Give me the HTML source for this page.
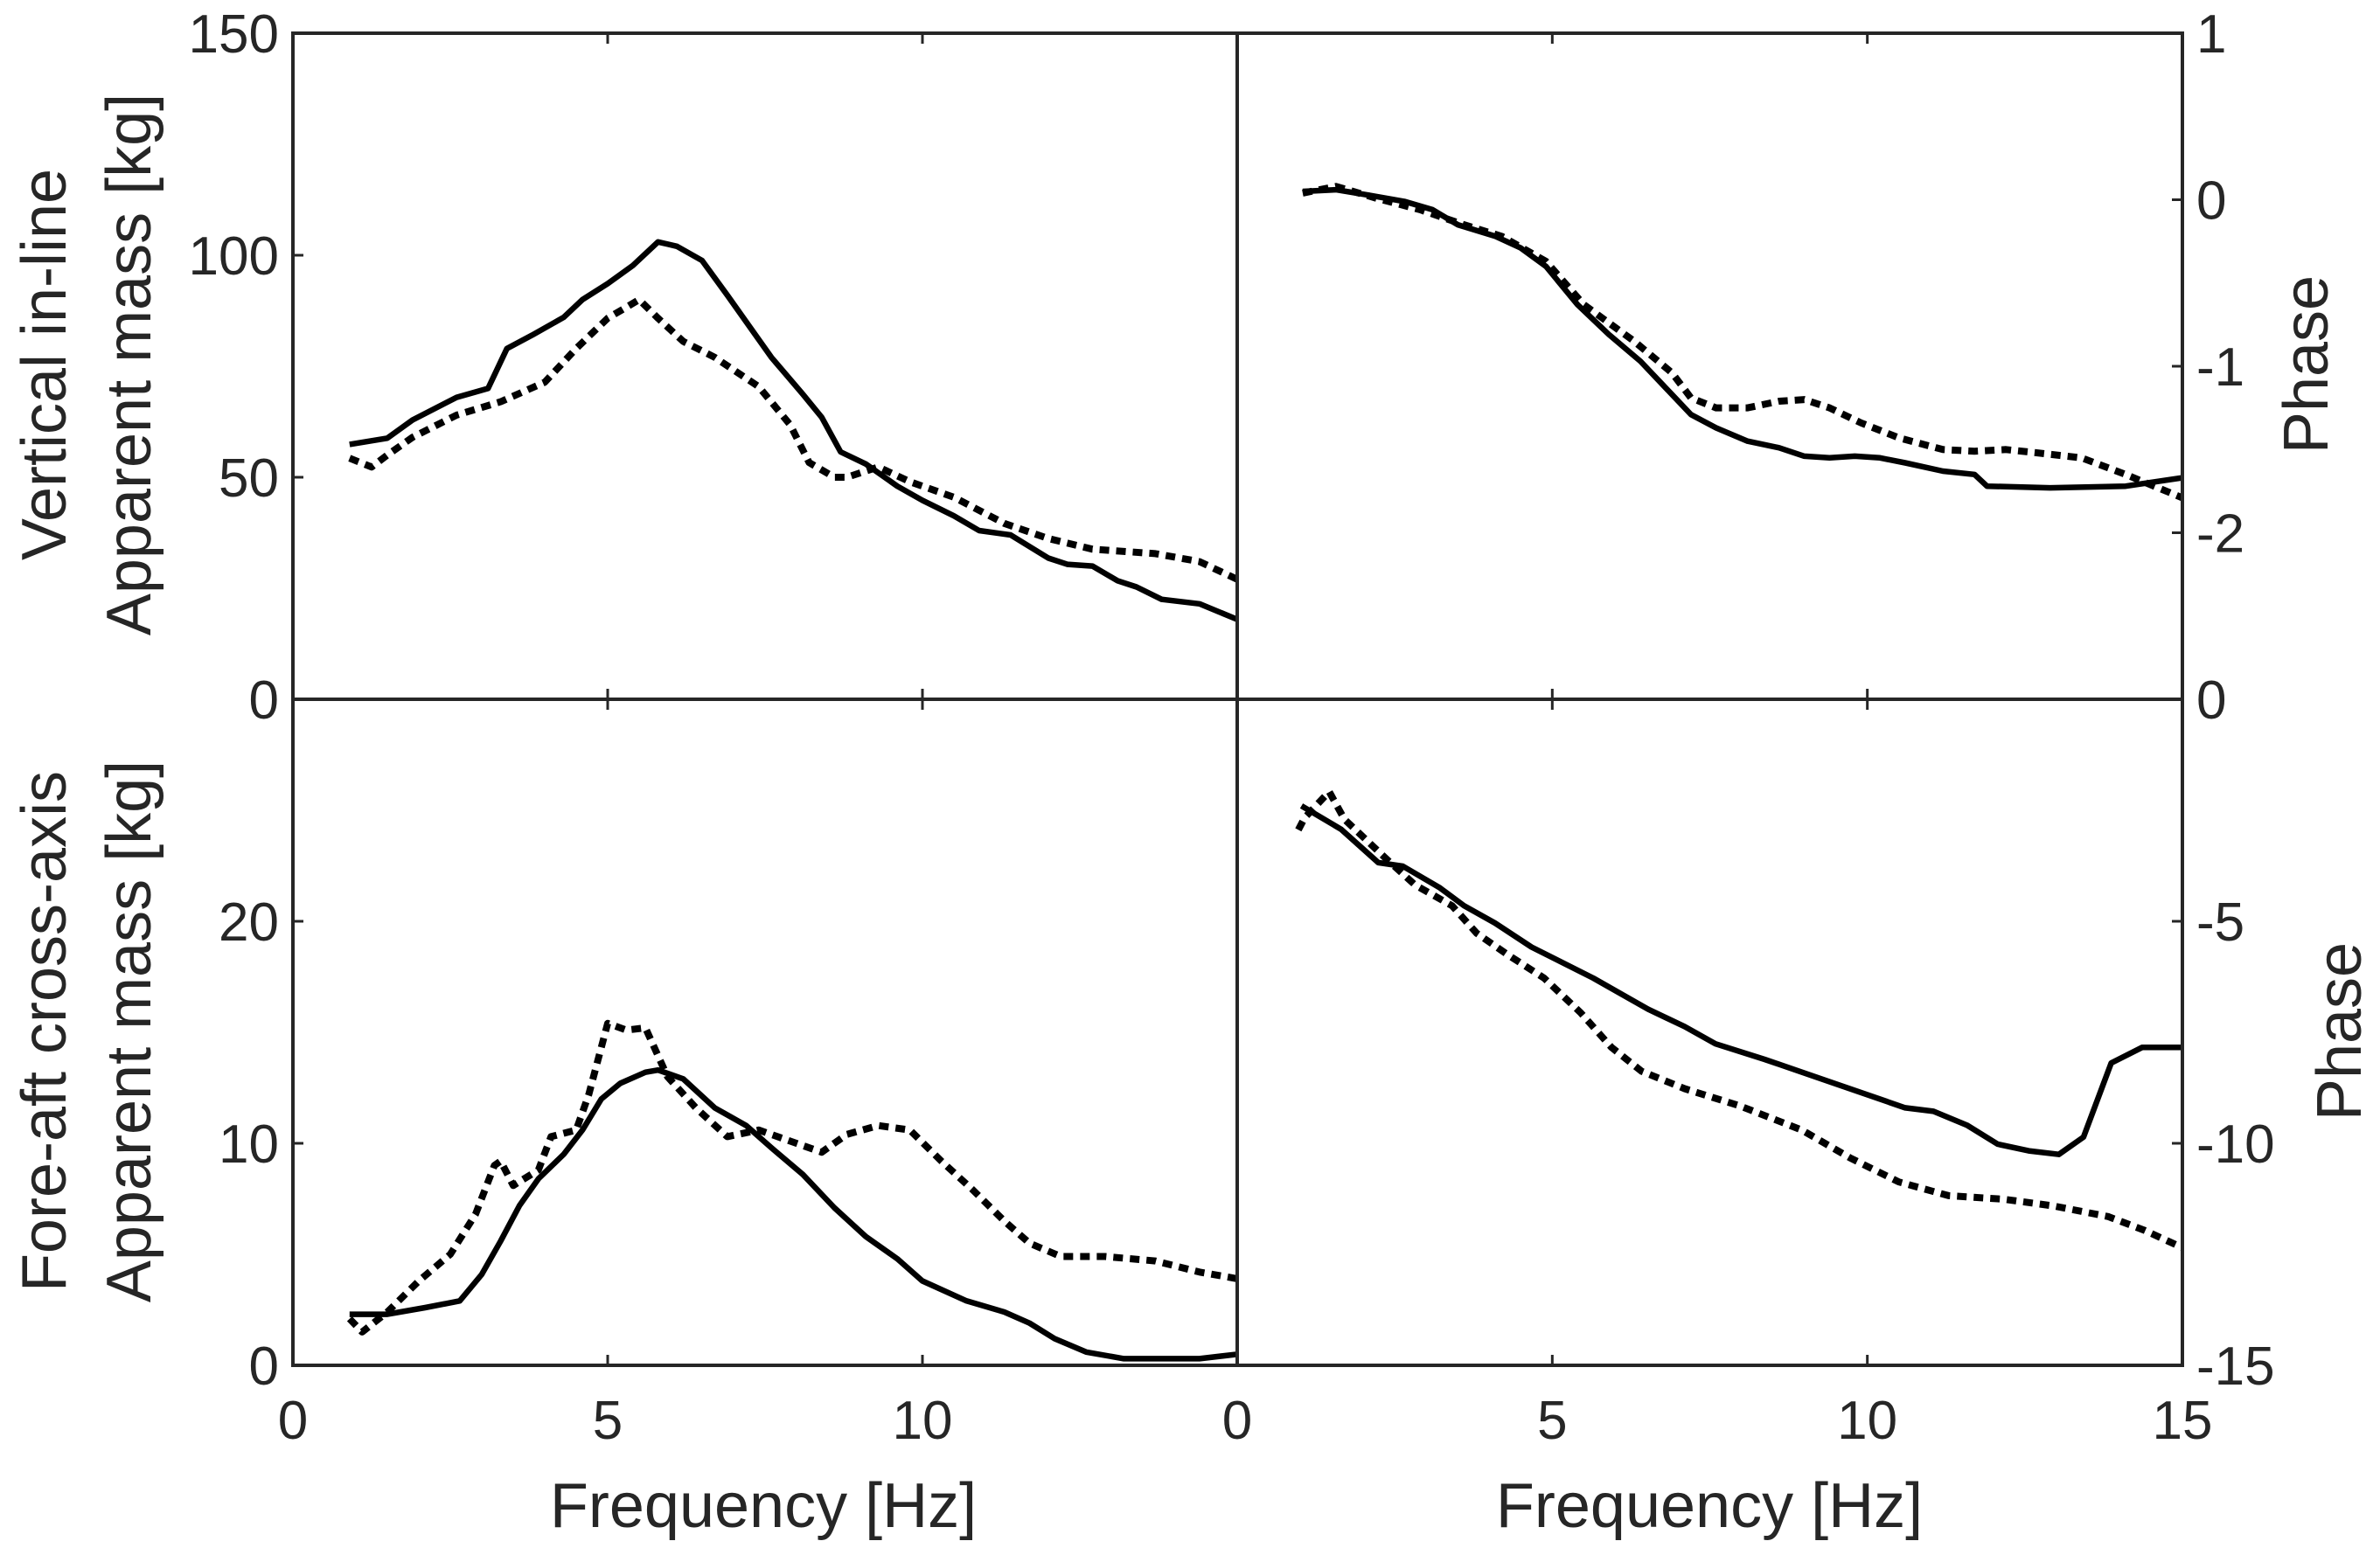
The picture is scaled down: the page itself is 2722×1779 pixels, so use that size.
<!DOCTYPE html>
<html><head><meta charset="utf-8"><style>
html,body{margin:0;padding:0;background:#fff;}
svg{display:block;font-family:"Liberation Sans",Arial,sans-serif;}
</style></head><body>
<svg id="chart" width="2722" height="1779" viewBox="0 0 2722 1779" xmlns="http://www.w3.org/2000/svg"></svg>
<script>
// ---- data ----
const tlSolidF=[0.9,1.5,1.9,2.6,3.1,3.4,3.8,4.3,4.6,5.0,5.4,5.8,6.1,6.5,6.9,7.6,8.1,8.4,8.7,9.1,9.6,10.0,10.5,10.9,11.4,12.0,12.3,12.7,13.1,13.4,13.8,14.4,15];
const tlSolidV=[57.4,58.8,62.9,68,70,79,82,86,90,93.6,97.7,103,102,98.8,91,77,68.7,63.5,55.7,53,48,44.8,41.3,38,37,31.8,30.4,30,26.7,25.3,22.5,21.5,18];
const tlDotF=[0.9,1.25,1.5,1.9,2.6,3.3,4.0,4.5,5.0,5.5,5.8,6.2,6.7,7.4,7.9,8.2,8.6,8.8,9.3,9.8,10.5,11.3,12.0,12.7,13.7,14.4,15];
const tlDotV=[54.3,52.3,55,59,64,67,71.4,79,85.8,90,85.8,80.6,77,70.4,61.8,53.3,50,50,52.3,49,45.5,39.6,36.2,33.8,32.8,31,27];
const trSolidF=[1.04,1.57,2.05,2.65,3.1,3.5,4.1,4.5,4.9,5.4,5.9,6.4,6.9,7.2,7.6,8.1,8.6,9.0,9.4,9.8,10.2,10.6,11.2,11.7,11.9,12.9,14.1,15];
const trSolidV=[0.05,0.06,0.03,-0.01,-0.06,-0.15,-0.22,-0.29,-0.4,-0.63,-0.81,-0.97,-1.17,-1.29,-1.37,-1.45,-1.49,-1.54,-1.55,-1.54,-1.55,-1.58,-1.63,-1.65,-1.72,-1.73,-1.72,-1.67];
const trDotF=[1.04,1.57,2.2,2.9,3.6,4.2,4.9,5.5,6.3,6.9,7.2,7.6,8.1,8.6,9.0,9.4,9.9,10.5,11.2,11.7,12.2,12.7,13.4,14.1,15];
const trDotV=[0.04,0.08,0.01,-0.06,-0.15,-0.22,-0.37,-0.63,-0.85,-1.04,-1.19,-1.25,-1.25,-1.21,-1.2,-1.25,-1.34,-1.43,-1.5,-1.51,-1.5,-1.52,-1.55,-1.65,-1.79];
const blSolidF=[0.9,1.5,2.1,2.65,3.0,3.3,3.6,3.9,4.3,4.6,4.9,5.2,5.6,5.8,6.2,6.7,7.2,7.6,8.1,8.6,9.1,9.6,10.0,10.7,11.3,11.7,12.1,12.6,13.2,14.4,15];
const blSolidV=[2.3,2.3,2.6,2.9,4.1,5.6,7.2,8.4,9.5,10.6,12,12.7,13.2,13.3,12.9,11.6,10.8,9.8,8.6,7.1,5.8,4.8,3.8,2.9,2.4,1.9,1.2,0.6,0.3,0.3,0.5];
const blDotF=[0.9,1.1,1.5,2.0,2.5,2.9,3.2,3.3,3.5,3.9,4.1,4.5,4.7,5.0,5.3,5.6,5.95,6.4,6.9,7.4,7.9,8.4,8.8,9.3,9.8,10.3,10.8,11.3,11.7,12.2,12.9,13.7,14.4,15];
const blDotV=[2.1,1.5,2.4,3.8,5,6.8,9,9.2,8.1,8.8,10.3,10.6,12.2,15.4,15.1,15.2,13,11.6,10.3,10.6,10.1,9.6,10.4,10.8,10.6,9.2,7.9,6.5,5.5,4.9,4.9,4.7,4.2,3.9];
const brSolidF=[1.02,1.65,2.24,2.63,3.21,3.6,4.09,4.67,5.65,6.52,7.1,7.59,8.37,9.25,10.6,11.05,11.58,12.07,12.56,13.04,13.43,13.87,14.36,15];
const brSolidV=[-2.4,-2.93,-3.68,-3.76,-4.24,-4.65,-5.04,-5.58,-6.28,-6.98,-7.37,-7.76,-8.11,-8.54,-9.2,-9.28,-9.59,-10.02,-10.17,-10.25,-9.86,-8.19,-7.84,-7.84];
const brDotF=[0.97,1.07,1.46,1.7,2.34,2.82,3.41,3.8,4.28,4.87,5.45,5.94,6.42,7.1,7.98,8.96,9.73,10.5,11.29,12.17,12.95,13.82,14.4,15];
const brDotV=[-2.94,-2.67,-2.08,-2.7,-3.56,-4.18,-4.65,-5.27,-5.74,-6.28,-7.06,-7.84,-8.38,-8.77,-9.16,-9.7,-10.33,-10.87,-11.18,-11.26,-11.41,-11.65,-11.96,-12.35];
const xTicks=[0,5,10,15];
const tlYTicks=[0,50,100,150];
const trYTicks=[-2,-1,0,1];
const blYTicks=[0,10,20];
const brYTicks=[-15,-10,-5,0];

const NS="http://www.w3.org/2000/svg";
const svg=document.getElementById('chart');
function mk(tag,attrs,parent){const e=document.createElementNS(NS,tag);for(const k in attrs)e.setAttribute(k,attrs[k]);(parent||svg).appendChild(e);return e;}
const X0=335,XM=1415,X1=2496,Y0=38,YM=800,Y1=1562;
const C="#262626";

function panel(name,x0,x1,y0,y1,ymin,ymax,yticks,side,showX,xLabels,series,clipId){
  const g=mk('g',{});
  
  
  const sx=f=>x0+(f-0)/15*(x1-x0);
  const sy=v=>y1-(v-ymin)/(ymax-ymin)*(y1-y0);
  const defs=mk('defs',{},g);
  const cp=mk('clipPath',{id:clipId},defs);
  mk('rect',{x:x0,y:y0,width:x1-x0,height:y1-y0},cp);
  series.forEach(s=>{
    let d='';
    s.f.forEach((f,i)=>{d+=(i?'L':'M')+sx(f).toFixed(1)+','+sy(s.v[i]).toFixed(1);});
    const p=mk('path',{d:d,fill:'none',stroke:'#000','stroke-width':s.dot?8:6.5,'stroke-linejoin':'round','clip-path':'url(#'+clipId+')'},g);
    if(s.dot){p.setAttribute('stroke-dasharray','11 8');}
    
    
  });
  mk('rect',{x:x0,y:y0,width:x1-x0,height:y1-y0,fill:'none',stroke:C,'stroke-width':4},g);
  xTicks.forEach(t=>{
    const x=sx(t);
    mk('line',{x1:x,y1:y1,x2:x,y2:y1-12,stroke:C,'stroke-width':3},g);
    mk('line',{x1:x,y1:y0,x2:x,y2:y0+12,stroke:C,'stroke-width':3},g);
  });
  yticks.forEach(t=>{
    const y=sy(t);
    if(side==='left') mk('line',{x1:x0,y1:y,x2:x0+12,y2:y,stroke:C,'stroke-width':3},g);
    else mk('line',{x1:x1,y1:y,x2:x1-12,y2:y,stroke:C,'stroke-width':3},g);
    const tx=mk('text',{x:side==='left'?x0-16:x1+16,y:y+22,'font-size':62,fill:C,'text-anchor':side==='left'?'end':'start'},g);
    tx.textContent=t;
    
    
  });
  if(showX){
    xLabels.forEach(t=>{
      const tx=mk('text',{x:sx(t),y:y1+84,'font-size':62,fill:C,'text-anchor':'middle'},g);
      tx.textContent=t;
      
      
    });
  }
}
panel('top-left-panel',X0,XM,Y0,YM,0,150,tlYTicks,'left',false,[],[
 {f:tlSolidF,v:tlSolidV,name:'vertical-mass-solid'},{f:tlDotF,v:tlDotV,dot:1,name:'vertical-mass-dotted'}],'c1');
panel('top-right-panel',XM,X1,Y0,YM,-3,1,trYTicks,'right',false,[],[
 {f:trSolidF,v:trSolidV,name:'vertical-phase-solid'},{f:trDotF,v:trDotV,dot:1,name:'vertical-phase-dotted'}],'c2');
panel('bottom-left-panel',X0,XM,YM,Y1,0,30,blYTicks,'left',true,[0,5,10],[
 {f:blSolidF,v:blSolidV,name:'foreaft-mass-solid'},{f:blDotF,v:blDotV,dot:1,name:'foreaft-mass-dotted'}],'c3');
panel('bottom-right-panel',XM,X1,YM,Y1,-15,0,brYTicks,'right',true,[0,5,10,15],[
 {f:brSolidF,v:brSolidV,name:'foreaft-phase-solid'},{f:brDotF,v:brDotV,dot:1,name:'foreaft-phase-dotted'}],'c4');

function label(txt,x,y,rot,name){
  const t=mk('text',{x:x,y:y,'font-size':72,fill:C,'text-anchor':'middle',transform:rot?'rotate(-90 '+x+' '+y+')':''});
  t.textContent=txt;
  
  
}
label('Frequency [Hz]',873,1747,false,'x-axis-title-left');
label('Frequency [Hz]',1955,1747,false,'x-axis-title-right');
label('Vertical in-line',75,417,true,'y-title-vertical-1');
label('Apparent mass [kg]',172,417,true,'y-title-vertical-2');
label('Fore-aft cross-axis',75,1180,true,'y-title-foreaft-1');
label('Apparent mass [kg]',172,1180,true,'y-title-foreaft-2');
label('Phase',2662,417,true,'y-title-phase-top');
label('Phase',2700,1180,true,'y-title-phase-bottom');
</script>
</body></html>
